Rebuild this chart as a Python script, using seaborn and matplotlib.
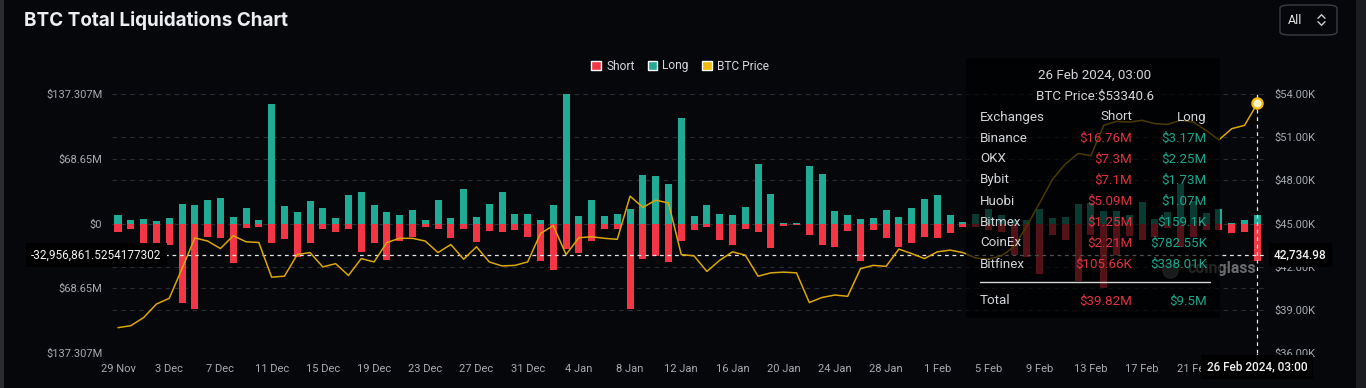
import numpy as np
import pandas as pd
import matplotlib
matplotlib.use("Agg")
import matplotlib.pyplot as plt
import seaborn as sns
from matplotlib.patches import Patch, Rectangle, FancyBboxPatch
from matplotlib.lines import Line2D

# ---------------- data ----------------
dates = pd.date_range("2023-11-29", "2024-02-26", freq="D")

long_m = [8.5, 4.2, 4.9, 2.8, 5.6, 21.2, 20.1, 24.7, 26.8, 6.7,
          16.6, 3.9, 126.4, 18.7, 12.0, 23.7, 16.2, 6.0, 29.7, 33.2,
          19.1, 12.4, 9.5, 14.8, 4.2, 25.4, 5.6, 37.0, 6.7, 20.5,
          33.9, 10.2, 9.9, 3.5, 20.1, 137.3, 7.8, 25.4, 7.8, 10.6,
          15.9, 51.2, 50.1, 41.7, 112.3, 7.8, 19.1, 9.9, 9.5, 18.0,
          62.8, 31.8, 1.0, 1.0, 61.4, 52.2, 13.1, 8.5, 4.6, 5.6,
          13.8, 7.1, 16.2, 26.5, 29.7, 8.8, 1.8, 10.6, 15.5, 8.8,
          3.5, 4.2, 15.5, 5.6, 7.1, 20.5, 21.9, 13.1, 13.1, 8.5,
          23.0, 5.3, 12.4, 42.4, 24.0, 11.3, 15.9, 0.4, 4.2, 9.5]

short_m = [9.2, 5.6, 21.9, 21.9, 23.3, 84.7, 90.7, 14.8, 15.9, 42.4,
           4.6, 4.2, 21.2, 16.9, 36.0, 21.2, 5.6, 8.5, 5.6, 30.0,
           20.5, 38.8, 18.7, 14.1, 3.5, 5.6, 15.5, 6.0, 20.1, 8.1,
           8.8, 6.4, 14.1, 39.5, 49.4, 27.5, 31.0, 18.4, 5.6, 5.6,
           90.4, 37.4, 34.6, 40.6, 18.4, 6.4, 3.5, 17.7, 23.0, 6.0,
           9.5, 26.5, 2.8, 2.1, 12.7, 23.3, 25.4, 7.8, 39.5, 7.1,
           15.9, 24.7, 20.5, 14.1, 15.9, 9.9, 3.5, 3.5, 6.4, 8.8,
           33.5, 35.3, 53.7, 12.7, 17.7, 60.7, 12.0, 68.0, 33.5, 13.4,
           17.7, 14.1, 5.0, 24.7, 14.1, 7.1, 7.1, 10.6, 9.5, 39.82]

price_k = [37.76, 37.90, 38.46, 39.40, 39.80, 41.86, 44.00, 43.78, 43.26, 44.15,
           43.73, 43.68, 41.27, 41.34, 42.84, 42.98, 41.98, 42.21, 41.39, 42.56,
           42.33, 43.68, 43.97, 43.97, 43.78, 42.98, 43.54, 42.52, 43.38, 42.33,
           42.05, 42.09, 42.33, 44.30, 44.86, 42.84, 44.01, 44.08, 43.97, 43.90,
           46.90, 46.12, 46.62, 46.43, 42.84, 42.75, 41.67, 42.44, 43.03, 42.80,
           41.34, 41.57, 41.62, 41.57, 39.51, 39.86, 40.03, 39.94, 41.86, 42.09,
           42.02, 43.22, 42.91, 42.56, 43.03, 43.15, 42.98, 42.60, 42.52, 42.75,
           43.38, 44.84, 46.43, 48.07, 49.13, 49.87, 49.71, 51.82, 52.10, 52.05,
           52.17, 51.94, 51.89, 52.17, 52.05, 51.47, 50.81, 51.59, 51.82, 53.34]

left_ticks = [-137.307, -68.65, 0, 68.65, 137.307]
left_labels = ["$137.307M", "$68.65M", "$0", "$68.65M", "$137.307M"]
right_ticks = [36, 39, 42, 45, 48, 51, 54]
right_labels = ["$36.00K", "$39.00K", "$42.00K", "$45.00K", "$48.00K", "$51.00K", "$54.00K"]

tooltip_title = "26 Feb 2024, 03:00"
tooltip_price = "BTC Price:$53340.6"
exchanges = ["Binance", "OKX", "Bybit", "Huobi", "Bitmex", "CoinEx", "Bitfinex"]
ex_short = ["$16.76M", "$7.3M", "$7.1M", "$5.09M", "$1.25M", "$2.21M", "$105.66K"]
ex_long = ["$3.17M", "$2.25M", "$1.73M", "$1.07M", "$159.1K", "$782.55K", "$338.01K"]
total_short, total_long = "$39.82M", "$9.5M"

cross_left_val = -32.9568615254177302
cross_left_txt = "-32,956,861.5254177302"
cross_right_txt = "42,734.98"
cross_idx = 89

# ---------------- style ----------------
BG = "#05070b"
RED = "#f23645"
GREEN = "#22ab94"
GOLD = "#f0b90b"
LINE_C = "#dba60a"
GRID = "#2a2d33"
TICK_C = "#a7aab0"

sns.set_theme(style="dark")
plt.rcParams["font.family"] = ["Roboto", "DejaVu Sans"]

W, H = 1366, 388
def fx(x):
    return x / W
def fy(y):
    return 1 - y / H

fig = plt.figure(figsize=(W / 100, H / 100), dpi=100)
fig.patch.set_facecolor(BG)

L, R, T, B = 112, 1265, 94, 353
ax = fig.add_axes([fx(L), fy(B), (R - L) / W, (B - T) / H])
ax.set_facecolor(BG)

idx = np.arange(len(dates))
df = pd.DataFrame({"idx": idx, "long": long_m, "short": -np.array(short_m), "price": price_k})

sns.barplot(data=df, x="idx", y="long", color=GREEN, saturation=1, width=0.55,
            errorbar=None, ax=ax, zorder=2, linewidth=0)
sns.barplot(data=df, x="idx", y="short", color=RED, saturation=1, width=0.55,
            errorbar=None, ax=ax, zorder=2, linewidth=0)

xlim = (-0.47, len(dates) - 1 + 0.6)
ax.set_xlim(*xlim)
ax.set_ylim(-137.307, 137.307)
ax.set_yticks(left_ticks)
ax.set_yticklabels(left_labels)
tick_pos = list(range(0, len(dates) - 3, 4))
ax.set_xticks(tick_pos)
ax.set_xticklabels([f"{dates[i].day} {dates[i].strftime('%b')}" for i in tick_pos])
ax.set_xlabel("")
ax.set_ylabel("")
ax.tick_params(axis="both", length=0, labelsize=8, colors=TICK_C)
ax.tick_params(axis="y", pad=7)
ax.tick_params(axis="x", pad=8)
for s in ax.spines.values():
    s.set_visible(False)
ax.grid(False)

ax2 = ax.twinx()
sns.lineplot(data=df, x="idx", y="price", ax=ax2, color=LINE_C, linewidth=1.1, zorder=3)
ax2.scatter([idx[-1]], [price_k[-1]], s=55, facecolor="#fff4c8", edgecolor=GOLD,
            linewidth=1.6, zorder=5)
ax2.set_xlim(*xlim)
ax2.set_ylim(36, 54)
ax2.set_yticks(right_ticks)
ax2.set_yticklabels(right_labels)
ax2.set_xlabel("")
ax2.set_ylabel("")
ax2.tick_params(axis="y", length=0, labelsize=8, colors=TICK_C, pad=7)
for s in ax2.spines.values():
    s.set_visible(False)
ax2.grid(False)

# grid lines (behind bars), both left and right tick levels
fig.canvas.draw()
grid_levels = list(left_ticks)
for p in right_ticks:
    disp = ax2.transData.transform((0, p))
    grid_levels.append(ax.transData.inverted().transform(disp)[1])
for g in grid_levels:
    ax.axhline(g, color=GRID, lw=0.8, ls=(0, (4, 4)), zorder=0.5)

# crosshair
ax.axhline(cross_left_val, color="#e6e6e6", lw=0.9, ls=(0, (3, 3)), zorder=6)
ax.axvline(cross_idx, color="#e6e6e6", lw=0.9, ls=(0, (3, 3)), zorder=6)

# watermark
ax2.text(fx(1222), fy(268), "coinglass", transform=fig.transFigure, fontsize=11.5,
         fontweight="bold", color="#8c8c8c", alpha=0.75, ha="center", va="center", zorder=4)
ax2.scatter([fx(1170)], [fy(270)], transform=fig.transFigure, s=120, color="#6e6e6e",
            alpha=0.7, zorder=4, marker="o")

# title
fig.text(fx(24), fy(20), "BTC Total Liquidations Chart", fontsize=13.6, fontweight="bold",
         color="#eceef2", ha="left", va="center", family=["Inter", "DejaVu Sans"])

# "All" selector
fig.add_artist(FancyBboxPatch((fx(1280), fy(35)), (1337 - 1280) / W, 30 / H,
                              boxstyle="round,pad=0,rounding_size=0.008",
                              transform=fig.transFigure, facecolor=BG,
                              edgecolor="#3a3d44", lw=1))
fig.text(fx(1288), fy(20), "All", fontsize=9, color="#e6e6e6", ha="left", va="center")
for yy, d in ((16.5, 1), (23.5, -1)):
    fig.add_artist(Line2D([fx(1318), fx(1321.5), fx(1325)],
                          [fy(yy + 1.8 * d), fy(yy - 1.8 * d), fy(yy + 1.8 * d)],
                          transform=fig.transFigure, color="#d0d0d0", lw=1))

# legend
handles = [Patch(facecolor=RED, label="Short"), Patch(facecolor=GREEN, label="Long"),
           Patch(facecolor=GOLD, label="BTC Price")]
fig.legend(handles=handles, loc="center", bbox_to_anchor=(fx(680), fy(66)), ncol=3,
           frameon=False, fontsize=8.6, labelcolor="#d6d8dd", handlelength=0.8,
           handleheight=0.8, handletextpad=0.45, columnspacing=1.1, borderaxespad=0)

# tooltip
fig.add_artist(Rectangle((fx(966), fy(318)), (1220 - 966) / W, (318 - 58) / H,
                         transform=fig.transFigure, facecolor="#000000", alpha=0.66,
                         edgecolor="none", zorder=10))
TXT = "#d3d5d9"
TS = 9.6
fig.text(fx(1095), fy(75), tooltip_title, fontsize=TS, color=TXT, ha="center", va="center", zorder=11)
fig.text(fx(1095), fy(96), tooltip_price, fontsize=TS, color=TXT, ha="center", va="center", zorder=11)
fig.text(fx(980), fy(117), "Exchanges", fontsize=TS, color=TXT, ha="left", va="center", zorder=11)
fig.text(fx(1132), fy(117), "Short", fontsize=TS, color=TXT, ha="right", va="center", zorder=11)
fig.text(fx(1207), fy(117), "Long", fontsize=TS, color=TXT, ha="right", va="center", zorder=11)
for i, (ex, s, l) in enumerate(zip(exchanges, ex_short, ex_long)):
    yy = 138 + 21 * i
    fig.text(fx(980), fy(yy), ex, fontsize=TS, color=TXT, ha="left", va="center", zorder=11)
    fig.text(fx(1132), fy(yy), s, fontsize=TS, color="#e0313f", ha="right", va="center", zorder=11)
    fig.text(fx(1207), fy(yy), l, fontsize=TS, color="#1ea68c", ha="right", va="center", zorder=11)
fig.add_artist(Line2D([fx(980), fx(1210)], [fy(282), fy(282)], transform=fig.transFigure,
                      color="#d8d8d8", lw=1, zorder=11))
fig.text(fx(980), fy(301), "Total", fontsize=TS, color=TXT, ha="left", va="center", zorder=11)
fig.text(fx(1132), fy(301), total_short, fontsize=TS, color="#e0313f", ha="right", va="center", zorder=11)
fig.text(fx(1207), fy(301), total_long, fontsize=TS, color="#1ea68c", ha="right", va="center", zorder=11)

# crosshair labels
box = dict(boxstyle="square,pad=0.45", facecolor="#000000", edgecolor="none")
fig.text(fx(31), fy(255), cross_left_txt, fontsize=8.5, color="#f2f2f2", ha="left",
         va="center", bbox=box, zorder=12)
fig.text(fx(1274), fy(255), cross_right_txt, fontsize=8.5, color="#f2f2f2", ha="left",
         va="center", bbox=box, zorder=12, fontweight="medium")
fig.text(fx(1257), fy(367), tooltip_title, fontsize=8.5, color="#f2f2f2", ha="center",
         va="center", bbox=dict(boxstyle="square,pad=0.5", facecolor="#000000", edgecolor="none"),
         zorder=12, fontweight="medium")
fig.add_artist(Line2D([fx(1257), fx(1257)], [fy(353), fy(357)], transform=fig.transFigure,
                      color="#e6e6e6", lw=0.9, ls=(0, (3, 3))))

# side strips
fig.add_artist(Rectangle((0, 0), 4 / W, 1, transform=fig.transFigure, facecolor="#2c2c2e",
                         edgecolor="none", zorder=20))
fig.add_artist(Rectangle((fx(1356), 0), 10 / W, 1, transform=fig.transFigure,
                         facecolor="#1c1d20", edgecolor="none", zorder=20))

fig.savefig("out.png", dpi=100, facecolor=BG)
